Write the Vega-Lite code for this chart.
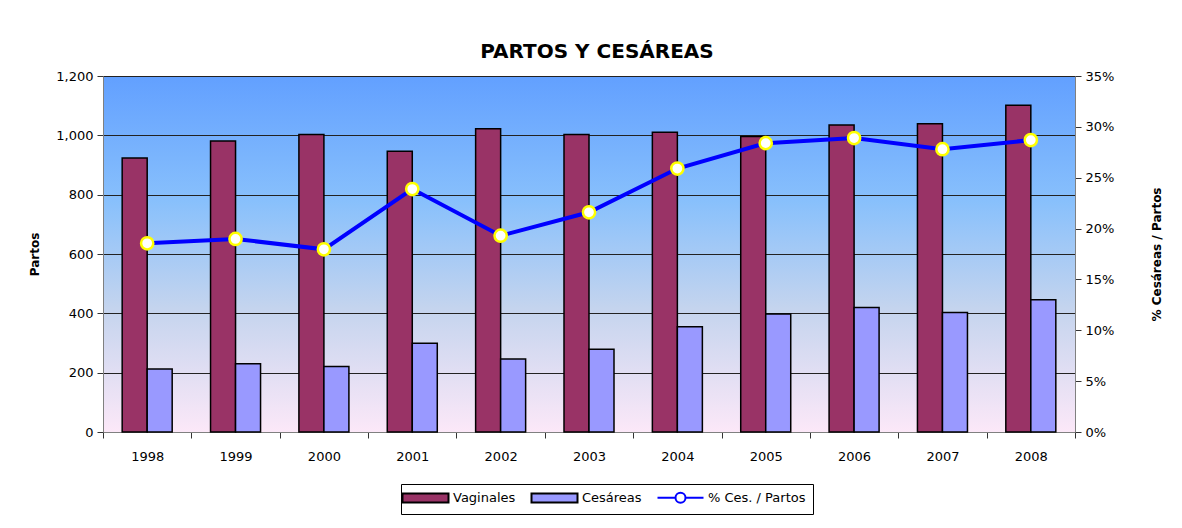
{
  "$schema": "https://vega.github.io/schema/vega-lite/v6.json",
  "width": 972,
  "height": 356,
  "autosize": "none",
  "padding": {"left": 103, "top": 76, "right": 107, "bottom": 96},
  "background": "white",
  "title": {"text": "PARTOS Y CESÁREAS", "fontSize": 20, "font": "DejaVu Sans", "fontWeight": "bold", "anchor": "middle", "offset": 8, "dx": 8, "color": "black"},
  "config": {
    "font": "DejaVu Sans",
    "view": {
      "stroke": "#808080",
      "fill": {"gradient": "linear", "x1": 0, "y1": 0, "x2": 0, "y2": 1,
        "stops": [
          {"offset": 0, "color": "#62A0FF"},
          {"offset": 0.35, "color": "#88C0FC"},
          {"offset": 0.65, "color": "#C4D4EE"},
          {"offset": 1, "color": "#FCE8F8"}
        ]}
    },
    "axis": {"labelColor": "black", "titleColor": "black", "labelFont": "DejaVu Sans", "titleFont": "DejaVu Sans", "labelFontSize": 13, "domainColor": "#808080", "tickColor": "#333333", "tickSize": 6}
  },
  "datasets": {
    "bars": [
      {"year": "1998", "tipo": "Vaginales", "partos": 924},
      {"year": "1998", "tipo": "Cesáreas", "partos": 212},
      {"year": "1999", "tipo": "Vaginales", "partos": 981},
      {"year": "1999", "tipo": "Cesáreas", "partos": 230},
      {"year": "2000", "tipo": "Vaginales", "partos": 1003},
      {"year": "2000", "tipo": "Cesáreas", "partos": 221},
      {"year": "2001", "tipo": "Vaginales", "partos": 946},
      {"year": "2001", "tipo": "Cesáreas", "partos": 299},
      {"year": "2002", "tipo": "Vaginales", "partos": 1022},
      {"year": "2002", "tipo": "Cesáreas", "partos": 246},
      {"year": "2003", "tipo": "Vaginales", "partos": 1003},
      {"year": "2003", "tipo": "Cesáreas", "partos": 279},
      {"year": "2004", "tipo": "Vaginales", "partos": 1010},
      {"year": "2004", "tipo": "Cesáreas", "partos": 355},
      {"year": "2005", "tipo": "Vaginales", "partos": 996},
      {"year": "2005", "tipo": "Cesáreas", "partos": 398},
      {"year": "2006", "tipo": "Vaginales", "partos": 1035},
      {"year": "2006", "tipo": "Cesáreas", "partos": 420},
      {"year": "2007", "tipo": "Vaginales", "partos": 1039},
      {"year": "2007", "tipo": "Cesáreas", "partos": 403},
      {"year": "2008", "tipo": "Vaginales", "partos": 1101},
      {"year": "2008", "tipo": "Cesáreas", "partos": 446}
    ],
    "pct": [
      {"year": "1998", "pct": 0.1855},
      {"year": "1999", "pct": 0.1898},
      {"year": "2000", "pct": 0.1796},
      {"year": "2001", "pct": 0.2389},
      {"year": "2002", "pct": 0.193},
      {"year": "2003", "pct": 0.216},
      {"year": "2004", "pct": 0.259},
      {"year": "2005", "pct": 0.284},
      {"year": "2006", "pct": 0.289},
      {"year": "2007", "pct": 0.278},
      {"year": "2008", "pct": 0.287}
    ]
  },
  "layer": [
    {
      "data": {"name": "bars"},
      "mark": {"type": "bar", "strokeWidth": 1.5, "opacity": 1},
      "encoding": {
        "x": {"field": "year", "type": "nominal", "scale": {"paddingInner": 0, "paddingOuter": 0},
          "axis": {"title": null, "tickBand": "extent", "labelAngle": 0, "labelPadding": 12, "grid": false}},
        "xOffset": {"field": "tipo", "type": "nominal", "sort": ["Vaginales", "Cesáreas"], "scale": {"paddingInner": 0, "paddingOuter": 0.767}},
        "y": {"field": "partos", "type": "quantitative", "scale": {"domain": [0, 1200]},
          "axis": {"values": [0, 200, 400, 600, 800, 1000, 1200], "format": ",.0f", "title": "Partos", "titleFontWeight": "bold", "titleFontSize": 12, "titlePadding": 14, "labelPadding": 4, "grid": true, "gridColor": "#222222", "gridOpacity": 1, "gridWidth": 1}},
        "fill": {"field": "tipo", "type": "nominal",
          "scale": {"domain": ["Vaginales", "Cesáreas", "% Ces. / Partos"], "range": ["#993366", "#9999FF", "white"]},
          "legend": {"orient": "none", "legendX": 298, "legendY": 408, "direction": "horizontal", "title": null,
            "strokeColor": "black", "fillColor": "white", "padding": 7, "labelFontSize": 13, "labelFont": "DejaVu Sans", "labelColor": "black",
            "columnPadding": 11, "labelOffset": 21, "symbolOffset": 11, "symbolSize": 100, "symbolStrokeWidth": 2, "symbolOpacity": 1,
            "symbolType": "M-4.6,-0.9H4.6V0.9H-4.6Z",
            "encode": {"symbols": {"update": {
              "shape": {"signal": "datum.value === '% Ces. / Partos' ? 'M-4.6,0H-1M1,0H4.6M1,0A1,1,0,1,1,-1,0A1,1,0,1,1,1,0' : 'M-4.6,-0.9H4.6V0.9H-4.6Z'"}
            }}}}
        },
        "stroke": {"field": "tipo", "type": "nominal",
          "scale": {"domain": ["Vaginales", "Cesáreas", "% Ces. / Partos"], "range": ["black", "black", "#0000FF"]}}
      }
    },
    {
      "data": {"name": "pct"},
      "encoding": {
        "x": {"field": "year", "type": "nominal"},
        "y": {"field": "pct", "type": "quantitative", "scale": {"domain": [0, 0.35]},
          "axis": {"orient": "right", "values": [0, 0.05, 0.1, 0.15, 0.2, 0.25, 0.3, 0.35], "format": ".0%", "title": "% Cesáreas / Partos", "titleFontWeight": "bold", "titleFontSize": 12, "titleAngle": 270, "titlePadding": 50, "labelPadding": 4, "grid": false}}
      },
      "layer": [
        {"mark": {"type": "line", "strokeWidth": 4}, "encoding": {"stroke": {"datum": "% Ces. / Partos"}}},
        {"mark": {"type": "point", "filled": true, "fill": "white", "stroke": "#FFFF00", "strokeWidth": 2.5, "size": 150, "opacity": 1}}
      ]
    }
  ],
  "resolve": {"scale": {"y": "independent"}}
}
